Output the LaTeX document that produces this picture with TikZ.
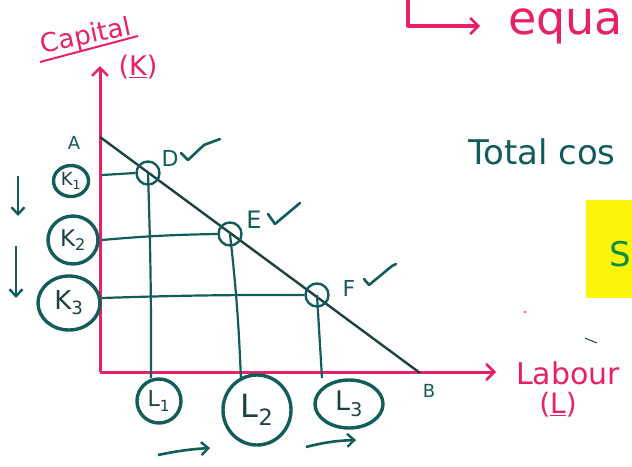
\documentclass[tikz,border=0pt]{standalone}
\usepackage{fontspec}
\setmainfont{DejaVu Sans}
\usetikzlibrary{shapes.geometric,arrows.meta}
\definecolor{pinkc}{RGB}{232,32,104}
\definecolor{tealc}{RGB}{18,92,92}
\definecolor{darkt}{RGB}{28,66,66}
\definecolor{hyell}{RGB}{250,245,10}
\tikzset{
  axisline/.style={pinkc,line width=3pt},
  guide/.style={tealc,line width=2.2pt},
  ring/.style={ellipse,draw=tealc,line width=3.4pt,inner sep=0pt,text=darkt},
  pt/.style={circle,draw=tealc,line width=2.4pt,minimum size=23pt,inner sep=0pt},
  pinktext/.style={text=pinkc,inner sep=0pt},
  tealtext/.style={text=tealc,inner sep=0pt},
  headtip/.style={-{Straight Barb[length=8pt,width=16pt,line width=2.6pt]}},
  smalltip/.style={-{Straight Barb[length=7pt,width=13pt,line width=2.4pt]}},
  tick/.style={tealc,line width=2.6pt,line cap=round,line join=round}
}
\begin{document}
\begin{tikzpicture}[x=1pt,y=-1pt]
\useasboundingbox (0,0) rectangle (632,466);
\clip (0,0) rectangle (632,466);
% axes
\coordinate (O) at (100,372);
\coordinate (Ytop) at (100,66);
\coordinate (Xend) at (496,372);
\draw[axisline,headtip] (O) -- (Ytop);
\draw[axisline,headtip] (O) -- (Xend);
\node[pinktext,font=\fontsize{26}{28}\selectfont,rotate=12] (cap) at (86,37) {Capital};
\coordinate (u1) at (40,62);
\coordinate (u2) at (138,36);
\draw[pinkc,line width=2pt] (u1) -- (u2);
\node[pinktext,font=\fontsize{27}{29}\selectfont] (kk) at (138,67) {(\underline{K})};
\node[pinktext,font=\fontsize{30}{32}\selectfont,anchor=west] (lab) at (516,373) {Labour};
\node[pinktext,font=\fontsize{28}{30}\selectfont] (ll) at (558,405) {(\underline{L})};
% top right
\coordinate (h1) at (408,0);
\coordinate (h2) at (408,26);
\coordinate (h3) at (480,26);
\draw[pinkc,line width=3.2pt,headtip,line join=round] (h1) -- (h2) -- (h3);
\node[pinktext,font=\fontsize{46}{48}\selectfont,anchor=west] (eq) at (508,26) {equa};
\node[tealtext,font=\fontsize{34}{36}\selectfont,anchor=west] (tc) at (468,152) {Total cos};
\fill[hyell] (586,200) rectangle (640,298);
\node[text=tealc!70!green,font=\fontsize{34}{36}\selectfont,inner sep=0pt] (S) at (620,254) {S};
\fill[pinkc] (525,312) circle (1.2pt);
\draw[darkt,line width=1pt] (585,338) -- (597,343);
% budget line
\coordinate (A) at (100,137);
\coordinate (B) at (420,373);
\draw[darkt,line width=2.4pt] (A) -- (B);
\node[tealtext,font=\fontsize{18}{19}\selectfont] (Alab) at (74,143) {A};
\node[tealtext,font=\fontsize{18}{19}\selectfont] (Blab) at (429,391) {B};
% equilibrium points
\node[pt] (D) at (148,173) {};
\node[pt] (E) at (230,234) {};
\node[pt] (F) at (317,295) {};
\node[tealtext,font=\fontsize{22}{23}\selectfont] (Dl) at (170,158) {D};
\draw[tick] (181,153) -- (188,160) -- (204,145) -- (220,139);
\node[tealtext,font=\fontsize{24}{25}\selectfont] (El) at (254,220) {E};
\draw[tick] (268,214) -- (275,224) -- (300,203);
\node[tealtext,font=\fontsize{22}{23}\selectfont] (Fl) at (349,288) {F};
\draw[tick] (364,279) -- (369,285) -- (392,266) -- (396,264);
% guide lines
\coordinate (yD) at (102,175);
\coordinate (yE) at (102,240);
\coordinate (yF) at (102,298);
\coordinate (xD) at (151,378);
\coordinate (xE) at (241,380);
\coordinate (xF) at (322,378);
\draw[guide] (yD) -- (D.west);
\draw[guide] (yE) to[bend left=2] (E.west);
\draw[guide] (yF) to[bend left=1] (F.west);
\draw[guide] (D.center) to[bend left=1] (xD);
\draw[guide] (E.center) to[bend left=2] (xE);
\draw[guide] (F.center) -- (xF);
% K rings
\node[ring,minimum width=35pt,minimum height=31pt,font=\fontsize{18}{19}\selectfont] (K1) at (71,181) {K\textsubscript{1}};
\node[ring,minimum width=50pt,minimum height=48pt,font=\fontsize{23}{24}\selectfont] (K2) at (73,240) {K\textsubscript{2}};
\node[ring,minimum width=62pt,minimum height=54pt,font=\fontsize{26}{27}\selectfont] (K3) at (69,303) {K\textsubscript{3}};
% L rings
\node[ring,minimum width=44pt,minimum height=44pt,font=\fontsize{22}{23}\selectfont] (L1) at (159,401) {L\textsubscript{1}};
\node[ring,minimum width=68pt,minimum height=70pt,font=\fontsize{32}{33}\selectfont] (L2) at (257,410) {L\textsubscript{2}};
\node[ring,minimum width=68pt,minimum height=48pt,font=\fontsize{27}{28}\selectfont] (L3) at (349,404) {L\textsubscript{3}};
% movement arrows
\coordinate (a1s) at (18,176);
\coordinate (a1e) at (18,216);
\coordinate (a2s) at (16,246);
\coordinate (a2e) at (16,298);
\draw[tealc,line width=2.6pt,smalltip] (a1s) -- (a1e);
\draw[tealc,line width=2.6pt,smalltip] (a2s) -- (a2e);
\coordinate (b1s) at (158,455);
\coordinate (b1e) at (210,448);
\coordinate (b2s) at (306,447);
\coordinate (b2e) at (356,440);
\draw[tealc,line width=2.6pt,smalltip] (b1s) to[bend left=4] (b1e);
\draw[tealc,line width=2.6pt,smalltip] (b2s) to[bend left=6] (b2e);
\end{tikzpicture}
\end{document}
